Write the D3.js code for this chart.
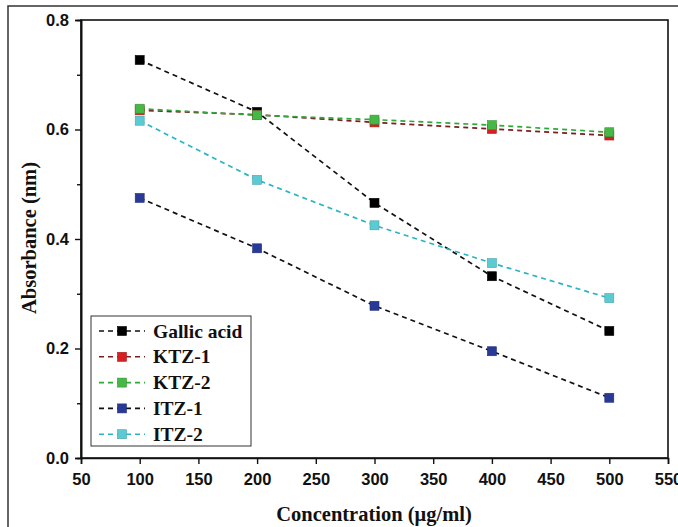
<!DOCTYPE html>
<html><head><meta charset="utf-8">
<script src="https://cdn.jsdelivr.net/npm/d3@7"></script>
<style>body{margin:0;background:#fff}svg{display:block}</style>
</head><body>
<script>
const concentrations = [100, 200, 300, 400, 500];
const gallicAcid = [0.727, 0.632, 0.466, 0.332, 0.232];
const ktz1 = [0.635, 0.627, 0.613, 0.601, 0.589];
const ktz2 = [0.638, 0.626, 0.618, 0.608, 0.595];
const itz1 = [0.475, 0.383, 0.278, 0.195, 0.110];
const itz2 = [0.616, 0.508, 0.425, 0.356, 0.292];
const seriesNames = ["Gallic acid", "KTZ-1", "KTZ-2", "ITZ-1", "ITZ-2"];
const xTicks = [50, 100, 150, 200, 250, 300, 350, 400, 450, 500, 550];
const yTicks = [0.0, 0.2, 0.4, 0.6, 0.8];

const seriesData = [gallicAcid, ktz1, ktz2, itz1, itz2];
const lineColors = ["#111111", "#7a1f1f", "#2fa83a", "#111111", "#2bb5c0"];
const markerColors = ["#000000", "#d42020", "#45b845", "#283a96", "#5ccad2"];

const W = 678, H = 527;
const svg = d3.select("body").append("svg").attr("width", W).attr("height", H);

// outer frame
svg.append("rect").attr("x", 8).attr("y", 6).attr("width", 700).attr("height", 560)
  .attr("fill", "none").attr("stroke", "#333").attr("stroke-width", 1.5);

const L = 81, R = 668, T = 20, B = 458;
const x = d3.scaleLinear().domain([50, 550]).range([L, R]);
const y = d3.scaleLinear().domain([0, 0.8]).range([B, T]);

// plot frame
svg.append("rect").attr("x", L).attr("y", T).attr("width", R - L).attr("height", B - T)
  .attr("fill", "none").attr("stroke", "#111").attr("stroke-width", 1.6);

const xAxis = d3.axisBottom(x).tickValues(xTicks).tickSize(6).tickPadding(9).tickFormat(d3.format("d"));
const gx = svg.append("g").attr("transform", `translate(0,${B})`).call(xAxis);
const yAxis = d3.axisLeft(y).tickValues(yTicks).tickSize(6).tickPadding(6).tickFormat(d3.format(".1f"));
const gy = svg.append("g").attr("transform", `translate(${L},0)`).call(yAxis);
// minor ticks
svg.append("g").attr("transform", `translate(${L},0)`)
  .call(d3.axisLeft(y).tickValues([0.1, 0.3, 0.5, 0.7]).tickSize(4).tickFormat(""));

[gx, gy].forEach(g => {
  g.selectAll("text").attr("font-family", "Liberation Sans, Arial, sans-serif")
    .attr("font-weight", "bold").attr("font-size", 16.5).attr("fill", "#111");
});
svg.selectAll(".domain").attr("stroke", "#111").attr("stroke-width", 1.6);
svg.selectAll(".tick line").attr("stroke", "#111").attr("stroke-width", 1.4);

// lines
const line = d3.line().x((d, i) => x(concentrations[i])).y(d => y(d));
const order = [0, 1, 2, 3, 4];
order.forEach(k => {
  svg.append("path").datum(seriesData[k]).attr("d", line)
    .attr("fill", "none").attr("stroke", lineColors[k]).attr("stroke-width", 1.7)
    .attr("stroke-dasharray", "5,4");
});
const ms = 9;
order.forEach(k => {
  svg.append("g").selectAll("rect").data(seriesData[k]).join("rect")
    .attr("x", (d, i) => x(concentrations[i]) - ms / 2)
    .attr("y", d => y(d) - ms / 2)
    .attr("width", ms).attr("height", ms)
    .attr("fill", markerColors[k]).attr("stroke", d3.color(markerColors[k]).darker(0.6)).attr("stroke-width", 0.6);
});

// axis titles
const serif = "Liberation Serif, Times New Roman, serif";
svg.append("text").attr("x", 374).attr("y", 521).attr("text-anchor", "middle")
  .attr("font-family", serif).attr("font-weight", "bold")
  .attr("font-size", 20.5).attr("fill", "#111").text("Concentration (μg/ml)");
svg.append("text").attr("transform", `translate(36,238) rotate(-90)`).attr("text-anchor", "middle")
  .attr("font-family", serif).attr("font-weight", "bold")
  .attr("font-size", 20.5).attr("fill", "#111").text("Absorbance (nm)");

// legend
const lg = svg.append("g");
lg.append("rect").attr("x", 91).attr("y", 316).attr("width", 160).attr("height", 130)
  .attr("fill", "#fff").attr("stroke", "#333").attr("stroke-width", 1);
seriesNames.forEach((name, k) => {
  const cy = 331 + k * 25.8;
  lg.append("line").attr("x1", 99).attr("x2", 145).attr("y1", cy).attr("y2", cy)
    .attr("stroke", lineColors[k]).attr("stroke-width", 1.6).attr("stroke-dasharray", "5,4");
  lg.append("rect").attr("x", 122 - ms / 2).attr("y", cy - ms / 2).attr("width", ms).attr("height", ms)
    .attr("fill", markerColors[k]).attr("stroke", d3.color(markerColors[k]).darker(0.6)).attr("stroke-width", 0.6);
  lg.append("text").attr("x", 153).attr("y", cy + 6.5)
    .attr("font-family", serif).attr("font-weight", "bold")
    .attr("font-size", 19.5).attr("fill", "#111").text(name);
});
</script>
</body></html>
